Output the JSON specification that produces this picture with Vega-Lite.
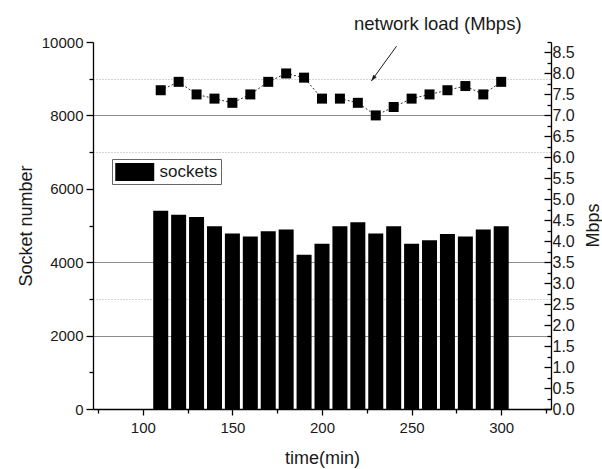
{
  "$schema": "https://vega.github.io/schema/vega-lite/v6.json",
  "width": 458,
  "height": 367,
  "autosize": {"type": "none"},
  "padding": {"left": 93, "top": 42, "right": 51, "bottom": 60},
  "background": "white",
  "config": {
    "view": {"stroke": null},
    "font": "Liberation Sans",
    "axis": {
      "domainColor": "#000000",
      "tickColor": "#000000",
      "domainWidth": 1.3,
      "tickWidth": 1.3,
      "labelColor": "#1a1a1a",
      "titleColor": "#1a1a1a",
      "labelFont": "Liberation Sans",
      "titleFont": "Liberation Sans",
      "labelFontSize": 15,
      "titleFontSize": 18,
      "titleFontWeight": "normal",
      "grid": false,
      "labelOverlap": false,
      "labelFlush": false
    }
  },
  "datasets": {
    "main": [
      {"time": 110, "sockets": 5400, "load": 7.6, "seg": 1},
      {"time": 120, "sockets": 5290, "load": 7.8, "seg": 1},
      {"time": 130, "sockets": 5230, "load": 7.5, "seg": 1},
      {"time": 140, "sockets": 4980, "load": 7.4, "seg": 1},
      {"time": 150, "sockets": 4780, "load": 7.3, "seg": 1},
      {"time": 160, "sockets": 4700, "load": 7.5, "seg": 1},
      {"time": 170, "sockets": 4840, "load": 7.8, "seg": 1},
      {"time": 180, "sockets": 4890, "load": 8.0, "seg": 1},
      {"time": 190, "sockets": 4200, "load": 7.9, "seg": 1},
      {"time": 200, "sockets": 4500, "load": 7.4, "seg": 1},
      {"time": 210, "sockets": 4980, "load": 7.4, "seg": 2},
      {"time": 220, "sockets": 5090, "load": 7.3, "seg": 2},
      {"time": 230, "sockets": 4780, "load": 7.0, "seg": 2},
      {"time": 240, "sockets": 4980, "load": 7.2, "seg": 2},
      {"time": 250, "sockets": 4500, "load": 7.4, "seg": 2},
      {"time": 260, "sockets": 4600, "load": 7.5, "seg": 2},
      {"time": 270, "sockets": 4770, "load": 7.6, "seg": 2},
      {"time": 280, "sockets": 4700, "load": 7.7, "seg": 2},
      {"time": 290, "sockets": 4890, "load": 7.5, "seg": 2},
      {"time": 300, "sockets": 4980, "load": 7.8, "seg": 2}
    ],
    "note": [
      {"time": 264.6, "load": 9.03, "label": "network load (Mbps)"}
    ],
    "arrow": [
      {"time": 227.5, "load": 7.82, "time2": 241.6, "load2": 8.65}
    ]
  },
  "layer": [
    {
      "data": {"name": "main"},
      "mark": {"type": "bar", "size": 15, "color": "#000000"},
      "encoding": {
        "x": {
          "field": "time",
          "type": "quantitative",
          "title": "time(min)",
          "scale": {"domain": [75, 325], "nice": false, "zero": false},
          "axis": {
            "title": "time(min)",
            "values": [75, 100, 125, 150, 175, 200, 225, 250, 275, 300, 325],
            "labelExpr": "datum.value % 50 === 0 ? datum.label : ''",
            "tickSize": {"condition": {"test": "datum.value % 50 === 0", "value": 6}, "value": 4},
            "labelPadding": 5,
            "titlePadding": 14
          }
        },
        "y": {
          "field": "sockets",
          "type": "quantitative",
          "title": "Socket number",
          "scale": {"domain": [0, 10000], "nice": false},
          "axis": {
            "title": "Socket number",
            "orient": "left",
            "values": [0, 1000, 2000, 3000, 4000, 5000, 6000, 7000, 8000, 9000, 10000],
            "format": "d",
            "labelExpr": "datum.value % 2000 === 0 ? datum.label : ''",
            "tickSize": {"condition": {"test": "datum.value % 2000 === 0", "value": 7}, "value": 4},
            "labelPadding": 3,
            "titlePadding": 6,
            "grid": true,
            "gridWidth": 1,
            "gridDash": {"condition": {"test": "indexof([3000, 7000, 9000], datum.value) >= 0", "value": [1, 2]}, "value": []},
            "gridColor": {"condition": {"test": "indexof([3000, 7000, 9000], datum.value) >= 0", "value": "#aaaaaa"}, "value": "#8c8c8c"},
            "gridOpacity": {"condition": {"test": "indexof([2000, 3000, 4000, 7000, 8000, 9000], datum.value) >= 0", "value": 1}, "value": 0}
          }
        },
        "color": {
          "datum": "sockets",
          "scale": {"range": ["#000000"]},
          "legend": {
            "title": null,
            "orient": "none",
            "legendX": 19,
            "legendY": 117,
            "padding": 3,
            "strokeColor": "#666666",
            "fillColor": "#ffffff",
            "symbolType": "M-1,-0.92H3V0.92H-1Z",
            "symbolSize": 380,
            "symbolStrokeWidth": 0,
            "labelFontSize": 17,
            "labelFont": "Liberation Sans",
            "labelColor": "#1a1a1a",
            "labelOffset": 24.5
          }
        }
      }
    },
    {
      "encoding": {
        "x": {"field": "time", "type": "quantitative", "title": "time(min)"},
        "y": {
          "field": "load",
          "type": "quantitative",
          "title": "Mbps",
          "scale": {"domain": [0, 8.75], "nice": false},
          "axis": {
            "title": "Mbps",
            "orient": "right",
            "titleAngle": 270,
            "titleX": 42,
            "titleY": 183,
            "titleAlign": "center",
            "titleBaseline": "middle",
            "values": [0, 0.25, 0.5, 0.75, 1, 1.25, 1.5, 1.75, 2, 2.25, 2.5, 2.75, 3, 3.25, 3.5, 3.75, 4, 4.25, 4.5, 4.75, 5, 5.25, 5.5, 5.75, 6, 6.25, 6.5, 6.75, 7, 7.25, 7.5, 7.75, 8, 8.25, 8.5, 8.75],
            "labelExpr": "datum.value % 0.5 === 0 ? format(datum.value, '.1f') : ''",
            "labelOverlap": false,
            "labelFontSize": 16,
            "tickSize": {"condition": {"test": "datum.value % 0.5 === 0", "value": -7}, "value": -4},
            "labelPadding": 8
          }
        }
      },
      "layer": [
        {
          "data": {"name": "main"},
          "mark": {"type": "line", "color": "#333333", "strokeWidth": 1, "strokeDash": [2, 2]},
          "encoding": {
            "detail": {"field": "seg", "type": "nominal"}
          }
        },
        {
          "data": {"name": "main"},
          "mark": {"type": "point", "shape": "square", "filled": true, "size": 100, "color": "#000000", "opacity": 1}
        },
        {
          "data": {"name": "note"},
          "mark": {"type": "text", "fontSize": 18.5, "font": "Liberation Sans", "color": "#1a1a1a", "align": "center", "baseline": "alphabetic"},
          "encoding": {
            "text": {"field": "label"}
          }
        },
        {
          "data": {"name": "arrow"},
          "mark": {"type": "rule", "color": "#1a1a1a", "strokeWidth": 1},
          "encoding": {
            "x2": {"field": "time2"},
            "y2": {"field": "load2"}
          }
        },
        {
          "data": {"name": "arrow"},
          "mark": {"type": "point", "shape": "M0,0L-0.5,1.5L0.5,1.5Z", "angle": 217, "size": 70, "filled": true, "color": "#1a1a1a", "opacity": 1, "strokeWidth": 0}
        }
      ]
    }
  ],
  "resolve": {"scale": {"y": "independent"}}
}
